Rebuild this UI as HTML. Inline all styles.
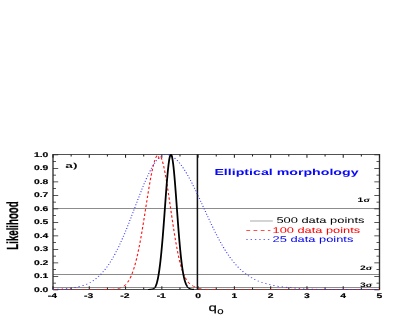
<!DOCTYPE html>
<html><head><meta charset="utf-8"><title>Likelihood</title>
<style>
html,body{margin:0;padding:0;background:#fff;}
body{width:415px;height:319px;overflow:hidden;font-family:"Liberation Sans",sans-serif;}
svg{display:block;filter:blur(0.35px);}
text{font-family:"Liberation Sans",sans-serif;text-rendering:geometricPrecision;}
</style></head><body>
<svg width="415" height="319" viewBox="0 0 415 319">
<rect width="415" height="319" fill="#fff"/>
<g id="plot" transform="scale(1.6 1)">

<line x1="33.12" x2="237.19" y1="208.50" y2="208.50" stroke="#8c8c8c" stroke-width="0.85"/>
<line x1="33.12" x2="237.19" y1="274.50" y2="274.50" stroke="#8c8c8c" stroke-width="0.85"/>
<line x1="33.12" x2="237.19" y1="287.50" y2="287.50" stroke="#8c8c8c" stroke-width="0.85"/>
<rect x="33.125" y="154.5" width="204.062" height="135.0" fill="none" stroke="#333" stroke-width="0.85"/>
<path d="M33.125 289.50v-3.2 M33.125 154.50v3.2 M44.462 289.50v-1.9 M44.462 154.50v1.9 M55.799 289.50v-3.2 M55.799 154.50v3.2 M67.135 289.50v-1.9 M67.135 154.50v1.9 M78.472 289.50v-3.2 M78.472 154.50v3.2 M89.809 289.50v-1.9 M89.809 154.50v1.9 M101.146 289.50v-3.2 M101.146 154.50v3.2 M112.483 289.50v-1.9 M112.483 154.50v1.9 M123.819 289.50v-3.2 M123.819 154.50v3.2 M135.156 289.50v-1.9 M135.156 154.50v1.9 M146.493 289.50v-3.2 M146.493 154.50v3.2 M157.830 289.50v-1.9 M157.830 154.50v1.9 M169.167 289.50v-3.2 M169.167 154.50v3.2 M180.503 289.50v-1.9 M180.503 154.50v1.9 M191.840 289.50v-3.2 M191.840 154.50v3.2 M203.177 289.50v-1.9 M203.177 154.50v1.9 M214.514 289.50v-3.2 M214.514 154.50v3.2 M225.851 289.50v-1.9 M225.851 154.50v1.9 M237.188 289.50v-3.2 M237.188 154.50v3.2 M33.125 289.80h3.25 M237.188 289.80h-3.25 M33.125 283.05h1.88 M237.188 283.05h-1.88 M33.125 276.30h3.25 M237.188 276.30h-3.25 M33.125 269.55h1.88 M237.188 269.55h-1.88 M33.125 262.80h3.25 M237.188 262.80h-3.25 M33.125 256.05h1.88 M237.188 256.05h-1.88 M33.125 249.30h3.25 M237.188 249.30h-3.25 M33.125 242.55h1.88 M237.188 242.55h-1.88 M33.125 235.80h3.25 M237.188 235.80h-3.25 M33.125 229.05h1.88 M237.188 229.05h-1.88 M33.125 222.30h3.25 M237.188 222.30h-3.25 M33.125 215.55h1.88 M237.188 215.55h-1.88 M33.125 208.80h3.25 M237.188 208.80h-3.25 M33.125 202.05h1.88 M237.188 202.05h-1.88 M33.125 195.30h3.25 M237.188 195.30h-3.25 M33.125 188.55h1.88 M237.188 188.55h-1.88 M33.125 181.80h3.25 M237.188 181.80h-3.25 M33.125 175.05h1.88 M237.188 175.05h-1.88 M33.125 168.30h3.25 M237.188 168.30h-3.25 M33.125 161.55h1.88 M237.188 161.55h-1.88 M33.125 154.80h3.25 M237.188 154.80h-3.25" stroke="#222" stroke-width="0.66" fill="none"/>
<line x1="123.382" x2="123.382" y1="154.5" y2="289.5" stroke="#111" stroke-width="0.95"/>
<path d="M33.125 289.50 L33.352 289.50 L33.578 289.50 L33.805 289.50 L34.032 289.50 L34.259 289.50 L34.485 289.50 L34.712 289.50 L34.939 289.50 L35.166 289.50 L35.392 289.50 L35.619 289.50 L35.846 289.50 L36.073 289.50 L36.299 289.50 L36.526 289.50 L36.753 289.50 L36.980 289.50 L37.206 289.50 L37.433 289.50 L37.660 289.50 L37.886 289.50 L38.113 289.50 L38.340 289.50 L38.567 289.50 L38.793 289.50 L39.020 289.50 L39.247 289.50 L39.474 289.50 L39.700 289.50 L39.927 289.50 L40.154 289.50 L40.381 289.50 L40.607 289.50 L40.834 289.50 L41.061 289.50 L41.288 289.50 L41.514 289.50 L41.741 289.50 L41.968 289.50 L42.194 289.50 L42.421 289.50 L42.648 289.50 L42.875 289.50 L43.101 289.50 L43.328 289.50 L43.555 289.50 L43.782 289.50 L44.008 289.50 L44.235 289.50 L44.462 289.50 L44.689 289.50 L44.915 289.50 L45.142 289.50 L45.369 289.50 L45.595 289.50 L45.822 289.50 L46.049 289.50 L46.276 289.50 L46.502 289.50 L46.729 289.50 L46.956 289.50 L47.183 289.50 L47.409 289.50 L47.636 289.50 L47.863 289.50 L48.090 289.50 L48.316 289.50 L48.543 289.50 L48.770 289.50 L48.997 289.50 L49.223 289.50 L49.450 289.50 L49.677 289.50 L49.903 289.50 L50.130 289.50 L50.357 289.50 L50.584 289.50 L50.810 289.50 L51.037 289.50 L51.264 289.50 L51.491 289.50 L51.717 289.50 L51.944 289.50 L52.171 289.50 L52.398 289.50 L52.624 289.50 L52.851 289.50 L53.078 289.50 L53.305 289.50 L53.531 289.50 L53.758 289.50 L53.985 289.50 L54.211 289.50 L54.438 289.50 L54.665 289.50 L54.892 289.50 L55.118 289.50 L55.345 289.50 L55.572 289.50 L55.799 289.50 L56.025 289.50 L56.252 289.50 L56.479 289.50 L56.706 289.50 L56.932 289.50 L57.159 289.50 L57.386 289.50 L57.613 289.50 L57.839 289.50 L58.066 289.50 L58.293 289.50 L58.519 289.50 L58.746 289.50 L58.973 289.50 L59.200 289.50 L59.426 289.50 L59.653 289.50 L59.880 289.50 L60.107 289.50 L60.333 289.50 L60.560 289.50 L60.787 289.50 L61.014 289.50 L61.240 289.50 L61.467 289.50 L61.694 289.50 L61.920 289.50 L62.147 289.50 L62.374 289.50 L62.601 289.50 L62.827 289.50 L63.054 289.49 L63.281 289.49 L63.508 289.49 L63.734 289.49 L63.961 289.49 L64.188 289.49 L64.415 289.49 L64.641 289.49 L64.868 289.49 L65.095 289.48 L65.322 289.48 L65.548 289.48 L65.775 289.48 L66.002 289.47 L66.228 289.47 L66.455 289.47 L66.682 289.46 L66.909 289.46 L67.135 289.45 L67.362 289.45 L67.589 289.44 L67.816 289.44 L68.042 289.43 L68.269 289.42 L68.496 289.41 L68.723 289.40 L68.949 289.39 L69.176 289.38 L69.403 289.36 L69.630 289.35 L69.856 289.33 L70.083 289.31 L70.310 289.29 L70.536 289.27 L70.763 289.25 L70.990 289.22 L71.217 289.19 L71.443 289.16 L71.670 289.13 L71.897 289.09 L72.124 289.05 L72.350 289.00 L72.577 288.95 L72.804 288.90 L73.031 288.84 L73.257 288.78 L73.484 288.71 L73.711 288.63 L73.938 288.55 L74.164 288.46 L74.391 288.37 L74.618 288.26 L74.844 288.15 L75.071 288.03 L75.298 287.90 L75.525 287.76 L75.751 287.61 L75.978 287.45 L76.205 287.27 L76.432 287.08 L76.658 286.88 L76.885 286.67 L77.112 286.44 L77.339 286.19 L77.565 285.93 L77.792 285.64 L78.019 285.34 L78.245 285.02 L78.472 284.68 L78.699 284.32 L78.926 283.93 L79.152 283.52 L79.379 283.08 L79.606 282.62 L79.833 282.13 L80.059 281.61 L80.286 281.06 L80.513 280.48 L80.740 279.87 L80.966 279.23 L81.193 278.55 L81.420 277.84 L81.647 277.09 L81.873 276.30 L82.100 275.48 L82.327 274.61 L82.553 273.70 L82.780 272.75 L83.007 271.76 L83.234 270.73 L83.460 269.65 L83.687 268.52 L83.914 267.35 L84.141 266.14 L84.367 264.87 L84.594 263.56 L84.821 262.20 L85.048 260.80 L85.274 259.34 L85.501 257.84 L85.728 256.28 L85.955 254.68 L86.181 253.03 L86.408 251.34 L86.635 249.60 L86.861 247.81 L87.088 245.97 L87.315 244.10 L87.542 242.17 L87.768 240.21 L87.995 238.21 L88.222 236.17 L88.449 234.09 L88.675 231.98 L88.902 229.83 L89.129 227.66 L89.356 225.45 L89.582 223.22 L89.809 220.97 L90.036 218.70 L90.263 216.41 L90.489 214.11 L90.716 211.80 L90.943 209.48 L91.169 207.16 L91.396 204.84 L91.623 202.53 L91.850 200.22 L92.076 197.93 L92.303 195.65 L92.530 193.39 L92.757 191.16 L92.983 188.96 L93.210 186.79 L93.437 184.65 L93.664 182.56 L93.890 180.52 L94.117 178.52 L94.344 176.58 L94.570 174.70 L94.797 172.88 L95.024 171.12 L95.251 169.44 L95.477 167.83 L95.704 166.29 L95.931 164.84 L96.158 163.47 L96.384 162.19 L96.611 161.00 L96.838 159.91 L97.065 158.90 L97.291 158.00 L97.518 157.20 L97.745 156.50 L97.972 155.90 L98.198 155.44 L98.425 155.16 L98.652 155.22 L98.878 155.79 L99.105 156.87 L99.332 158.09 L99.559 158.77 L99.785 158.58 L100.012 157.85 L100.239 157.25 L100.466 157.17 L100.692 157.62 L100.919 158.41 L101.146 159.40 L101.373 160.53 L101.599 161.77 L101.826 163.12 L102.053 164.56 L102.280 166.11 L102.506 167.75 L102.733 169.49 L102.960 171.30 L103.186 173.20 L103.413 175.17 L103.640 177.22 L103.867 179.33 L104.093 181.50 L104.320 183.72 L104.547 186.00 L104.774 188.32 L105.000 190.68 L105.227 193.08 L105.454 195.51 L105.681 197.96 L105.907 200.42 L106.134 202.91 L106.361 205.40 L106.588 207.89 L106.814 210.39 L107.041 212.88 L107.268 215.36 L107.494 217.83 L107.721 220.28 L107.948 222.70 L108.175 225.11 L108.401 227.48 L108.628 229.82 L108.855 232.13 L109.082 234.40 L109.308 236.62 L109.535 238.81 L109.762 240.95 L109.989 243.04 L110.215 245.09 L110.442 247.08 L110.669 249.02 L110.895 250.91 L111.122 252.74 L111.349 254.52 L111.576 256.25 L111.802 257.92 L112.029 259.52 L112.256 261.06 L112.483 262.53 L112.709 263.95 L112.936 265.30 L113.163 266.59 L113.390 267.82 L113.616 269.00 L113.843 270.12 L114.070 271.18 L114.297 272.20 L114.523 273.16 L114.750 274.07 L114.977 274.93 L115.203 275.75 L115.430 276.53 L115.657 277.26 L115.884 277.95 L116.110 278.60 L116.337 279.22 L116.564 279.80 L116.791 280.35 L117.017 280.87 L117.244 281.35 L117.471 281.81 L117.698 282.24 L117.924 282.65 L118.151 283.03 L118.378 283.38 L118.605 283.72 L118.831 284.04 L119.058 284.33 L119.285 284.61 L119.511 284.87 L119.738 285.12 L119.965 285.35 L120.192 285.56 L120.418 285.77 L120.645 285.96 L120.872 286.14 L121.099 286.30 L121.325 286.46 L121.552 286.61 L121.779 286.75 L122.006 286.88 L122.232 287.00 L122.459 287.11 L122.686 287.28 L122.912 287.45 L123.139 287.61 L123.366 287.76 L123.593 287.89 L123.819 288.02 L124.046 288.14 L124.273 288.25 L124.500 288.35 L124.726 288.44 L124.953 288.53 L125.180 288.61 L125.407 288.69 L125.633 288.76 L125.860 288.82 L126.087 288.88 L126.314 288.93 L126.540 288.98 L126.767 289.03 L126.994 289.07 L127.220 289.11 L127.447 289.14 L127.674 289.18 L127.901 289.21 L128.127 289.23 L128.354 289.26 L128.581 289.28 L128.808 289.30 L129.034 289.32 L129.261 289.34 L129.488 289.35 L129.715 289.37 L129.941 289.38 L130.168 289.39 L130.395 289.40 L130.622 289.41 L130.848 289.42 L131.075 289.43 L131.302 289.44 L131.528 289.44 L131.755 289.45 L131.982 289.45 L132.209 289.46 L132.435 289.46 L132.662 289.47 L132.889 289.47 L133.116 289.47 L133.342 289.48 L133.569 289.48 L133.796 289.48 L134.023 289.48 L134.249 289.49 L134.476 289.49 L134.703 289.49 L134.930 289.49 L135.156 289.49 L135.383 289.49 L135.610 289.49 L135.836 289.49 L136.063 289.49 L136.290 289.50 L136.517 289.50 L136.743 289.50 L136.970 289.50 L137.197 289.50 L137.424 289.50 L137.650 289.50 L137.877 289.50 L138.104 289.50 L138.331 289.50 L138.557 289.50 L138.784 289.50 L139.011 289.50 L139.237 289.50 L139.464 289.50 L139.691 289.50 L139.918 289.50 L140.144 289.50 L140.371 289.50 L140.598 289.50 L140.825 289.50 L141.051 289.50 L141.278 289.50 L141.505 289.50 L141.732 289.50 L141.958 289.50 L142.185 289.50 L142.412 289.50 L142.639 289.50 L142.865 289.50 L143.092 289.50 L143.319 289.50 L143.545 289.50 L143.772 289.50 L143.999 289.50 L144.226 289.50 L144.452 289.50 L144.679 289.50 L144.906 289.50 L145.133 289.50 L145.359 289.50 L145.586 289.50 L145.813 289.50 L146.040 289.50 L146.266 289.50 L146.493 289.50 L146.720 289.50 L146.947 289.50 L147.173 289.50 L147.400 289.50 L147.627 289.50 L147.853 289.50 L148.080 289.50 L148.307 289.50 L148.534 289.50 L148.760 289.50 L148.987 289.50 L149.214 289.50 L149.441 289.50 L149.667 289.50 L149.894 289.50 L150.121 289.50 L150.348 289.50 L150.574 289.50 L150.801 289.50 L151.028 289.50 L151.255 289.50 L151.481 289.50 L151.708 289.50 L151.935 289.50 L152.161 289.50 L152.388 289.50 L152.615 289.50 L152.842 289.50 L153.068 289.50 L153.295 289.50 L153.522 289.50 L153.749 289.50 L153.975 289.50 L154.202 289.50 L154.429 289.50 L154.656 289.50 L154.882 289.50 L155.109 289.50 L155.336 289.50 L155.562 289.50 L155.789 289.50 L156.016 289.50 L156.243 289.50 L156.469 289.50 L156.696 289.50 L156.923 289.50 L157.150 289.50 L157.376 289.50 L157.603 289.50 L157.830 289.50 L158.057 289.50 L158.283 289.50 L158.510 289.50 L158.737 289.50 L158.964 289.50 L159.190 289.50 L159.417 289.50 L159.644 289.50 L159.870 289.50 L160.097 289.50 L160.324 289.50 L160.551 289.50 L160.777 289.50 L161.004 289.50 L161.231 289.50 L161.458 289.50 L161.684 289.50 L161.911 289.50 L162.138 289.50 L162.365 289.50 L162.591 289.50 L162.818 289.50 L163.045 289.50 L163.272 289.50 L163.498 289.50 L163.725 289.50 L163.952 289.50 L164.178 289.50 L164.405 289.50 L164.632 289.50 L164.859 289.50 L165.085 289.50 L165.312 289.50 L165.539 289.50 L165.766 289.50 L165.992 289.50 L166.219 289.50 L166.446 289.50 L166.673 289.50 L166.899 289.50 L167.126 289.50 L167.353 289.50 L167.580 289.50 L167.806 289.50 L168.033 289.50 L168.260 289.50 L168.486 289.50 L168.713 289.50 L168.940 289.50 L169.167 289.50 L169.393 289.50 L169.620 289.50 L169.847 289.50 L170.074 289.50 L170.300 289.50 L170.527 289.50 L170.754 289.50 L170.981 289.50 L171.207 289.50 L171.434 289.50 L171.661 289.50 L171.887 289.50 L172.114 289.50 L172.341 289.50 L172.568 289.50 L172.794 289.50 L173.021 289.50 L173.248 289.50 L173.475 289.50 L173.701 289.50 L173.928 289.50 L174.155 289.50 L174.382 289.50 L174.608 289.50 L174.835 289.50 L175.062 289.50 L175.289 289.50 L175.515 289.50 L175.742 289.50 L175.969 289.50 L176.195 289.50 L176.422 289.50 L176.649 289.50 L176.876 289.50 L177.102 289.50 L177.329 289.50 L177.556 289.50 L177.783 289.50 L178.009 289.50 L178.236 289.50 L178.463 289.50 L178.690 289.50 L178.916 289.50 L179.143 289.50 L179.370 289.50 L179.597 289.50 L179.823 289.50 L180.050 289.50 L180.277 289.50 L180.503 289.50 L180.730 289.50 L180.957 289.50 L181.184 289.50 L181.410 289.50 L181.637 289.50 L181.864 289.50 L182.091 289.50 L182.317 289.50 L182.544 289.50 L182.771 289.50 L182.998 289.50 L183.224 289.50 L183.451 289.50 L183.678 289.50 L183.905 289.50 L184.131 289.50 L184.358 289.50 L184.585 289.50 L184.811 289.50 L185.038 289.50 L185.265 289.50 L185.492 289.50 L185.718 289.50 L185.945 289.50 L186.172 289.50 L186.399 289.50 L186.625 289.50 L186.852 289.50 L187.079 289.50 L187.306 289.50 L187.532 289.50 L187.759 289.50 L187.986 289.50 L188.212 289.50 L188.439 289.50 L188.666 289.50 L188.893 289.50 L189.119 289.50 L189.346 289.50 L189.573 289.50 L189.800 289.50 L190.026 289.50 L190.253 289.50 L190.480 289.50 L190.707 289.50 L190.933 289.50 L191.160 289.50 L191.387 289.50 L191.614 289.50 L191.840 289.50 L192.067 289.50 L192.294 289.50 L192.520 289.50 L192.747 289.50 L192.974 289.50 L193.201 289.50 L193.427 289.50 L193.654 289.50 L193.881 289.50 L194.108 289.50 L194.334 289.50 L194.561 289.50 L194.788 289.50 L195.015 289.50 L195.241 289.50 L195.468 289.50 L195.695 289.50 L195.922 289.50 L196.148 289.50 L196.375 289.50 L196.602 289.50 L196.828 289.50 L197.055 289.50 L197.282 289.50 L197.509 289.50 L197.735 289.50 L197.962 289.50 L198.189 289.50 L198.416 289.50 L198.642 289.50 L198.869 289.50 L199.096 289.50 L199.323 289.50 L199.549 289.50 L199.776 289.50 L200.003 289.50 L200.230 289.50 L200.456 289.50 L200.683 289.50 L200.910 289.50 L201.136 289.50 L201.363 289.50 L201.590 289.50 L201.817 289.50 L202.043 289.50 L202.270 289.50 L202.497 289.50 L202.724 289.50 L202.950 289.50 L203.177 289.50 L203.404 289.50 L203.631 289.50 L203.857 289.50 L204.084 289.50 L204.311 289.50 L204.537 289.50 L204.764 289.50 L204.991 289.50 L205.218 289.50 L205.444 289.50 L205.671 289.50 L205.898 289.50 L206.125 289.50 L206.351 289.50 L206.578 289.50 L206.805 289.50 L207.032 289.50 L207.258 289.50 L207.485 289.50 L207.712 289.50 L207.939 289.50 L208.165 289.50 L208.392 289.50 L208.619 289.50 L208.845 289.50 L209.072 289.50 L209.299 289.50 L209.526 289.50 L209.752 289.50 L209.979 289.50 L210.206 289.50 L210.433 289.50 L210.659 289.50 L210.886 289.50 L211.113 289.50 L211.340 289.50 L211.566 289.50 L211.793 289.50 L212.020 289.50 L212.247 289.50 L212.473 289.50 L212.700 289.50 L212.927 289.50 L213.153 289.50 L213.380 289.50 L213.607 289.50 L213.834 289.50 L214.060 289.50 L214.287 289.50 L214.514 289.50 L214.741 289.50 L214.967 289.50 L215.194 289.50 L215.421 289.50 L215.648 289.50 L215.874 289.50 L216.101 289.50 L216.328 289.50 L216.555 289.50 L216.781 289.50 L217.008 289.50 L217.235 289.50 L217.461 289.50 L217.688 289.50 L217.915 289.50 L218.142 289.50 L218.368 289.50 L218.595 289.50 L218.822 289.50 L219.049 289.50 L219.275 289.50 L219.502 289.50 L219.729 289.50 L219.956 289.50 L220.182 289.50 L220.409 289.50 L220.636 289.50 L220.862 289.50 L221.089 289.50 L221.316 289.50 L221.543 289.50 L221.769 289.50 L221.996 289.50 L222.223 289.50 L222.450 289.50 L222.676 289.50 L222.903 289.50 L223.130 289.50 L223.357 289.50 L223.583 289.50 L223.810 289.50 L224.037 289.50 L224.264 289.50 L224.490 289.50 L224.717 289.50 L224.944 289.50 L225.170 289.50 L225.397 289.50 L225.624 289.50 L225.851 289.50 L226.077 289.50 L226.304 289.50 L226.531 289.50 L226.758 289.50 L226.984 289.50 L227.211 289.50 L227.438 289.50 L227.665 289.50 L227.891 289.50 L228.118 289.50 L228.345 289.50 L228.572 289.50 L228.798 289.50 L229.025 289.50 L229.252 289.50 L229.478 289.50 L229.705 289.50 L229.932 289.50 L230.159 289.50 L230.385 289.50 L230.612 289.50 L230.839 289.50 L231.066 289.50 L231.292 289.50 L231.519 289.50 L231.746 289.50 L231.973 289.50 L232.199 289.50 L232.426 289.50 L232.653 289.50 L232.880 289.50 L233.106 289.50 L233.333 289.50 L233.560 289.50 L233.786 289.50 L234.013 289.50 L234.240 289.50 L234.467 289.50 L234.693 289.50 L234.920 289.50 L235.147 289.50 L235.374 289.50 L235.600 289.50 L235.827 289.50 L236.054 289.50 L236.281 289.50 L236.507 289.50 L236.734 289.50 L236.961 289.50 L237.188 289.50" fill="none" stroke="#ff1414" stroke-width="0.72" stroke-dasharray="2.4 2.1"/>
<path d="M33.125 289.31 L33.533 289.29 L33.941 289.28 L34.349 289.26 L34.758 289.24 L35.166 289.22 L35.574 289.20 L35.982 289.18 L36.390 289.15 L36.798 289.13 L37.206 289.10 L37.614 289.07 L38.022 289.04 L38.431 289.01 L38.839 288.97 L39.247 288.93 L39.655 288.89 L40.063 288.85 L40.471 288.80 L40.879 288.75 L41.288 288.70 L41.696 288.65 L42.104 288.59 L42.512 288.53 L42.920 288.46 L43.328 288.39 L43.736 288.32 L44.144 288.24 L44.552 288.15 L44.961 288.07 L45.369 287.97 L45.777 287.87 L46.185 287.77 L46.593 287.66 L47.001 287.54 L47.409 287.42 L47.817 287.29 L48.226 287.16 L48.634 287.01 L49.042 286.86 L49.450 286.70 L49.858 286.54 L50.266 286.36 L50.674 286.18 L51.082 285.98 L51.491 285.78 L51.899 285.56 L52.307 285.34 L52.715 285.11 L53.123 284.86 L53.531 284.60 L53.939 284.33 L54.347 284.05 L54.756 283.75 L55.164 283.44 L55.572 283.12 L55.980 282.78 L56.388 282.43 L56.796 282.06 L57.204 281.68 L57.613 281.28 L58.021 280.87 L58.429 280.44 L58.837 279.99 L59.245 279.52 L59.653 279.03 L60.061 278.53 L60.469 278.00 L60.877 277.46 L61.286 276.89 L61.694 276.31 L62.102 275.70 L62.510 275.08 L62.918 274.43 L63.326 273.75 L63.734 273.06 L64.142 272.34 L64.551 271.60 L64.959 270.84 L65.367 270.05 L65.775 269.23 L66.183 268.39 L66.591 267.53 L66.999 266.64 L67.407 265.73 L67.816 264.79 L68.224 263.82 L68.632 262.83 L69.040 261.81 L69.448 260.77 L69.856 259.69 L70.264 258.60 L70.672 257.47 L71.081 256.32 L71.489 255.15 L71.897 253.94 L72.305 252.71 L72.713 251.46 L73.121 250.18 L73.529 248.88 L73.938 247.55 L74.346 246.19 L74.754 244.81 L75.162 243.41 L75.570 241.98 L75.978 240.54 L76.386 239.06 L76.794 237.57 L77.203 236.06 L77.611 234.53 L78.019 232.98 L78.427 231.41 L78.835 229.82 L79.243 228.21 L79.651 226.59 L80.059 224.96 L80.467 223.31 L80.876 221.65 L81.284 219.98 L81.692 218.30 L82.100 216.61 L82.508 214.91 L82.916 213.21 L83.324 211.50 L83.732 209.79 L84.141 208.08 L84.549 206.36 L84.957 204.65 L85.365 202.94 L85.773 201.24 L86.181 199.54 L86.589 197.84 L86.997 196.16 L87.406 194.49 L87.814 192.83 L88.222 191.18 L88.630 189.55 L89.038 187.94 L89.446 186.34 L89.854 184.77 L90.263 183.22 L90.671 181.69 L91.079 180.19 L91.487 178.72 L91.895 177.28 L92.303 175.87 L92.711 174.49 L93.119 173.14 L93.528 171.83 L93.936 170.56 L94.344 169.33 L94.752 168.13 L95.160 166.98 L95.568 165.88 L95.976 164.81 L96.384 163.80 L96.792 162.83 L97.201 161.90 L97.609 161.03 L98.017 160.21 L98.425 159.44 L98.833 158.72 L99.241 158.06 L99.649 157.45 L100.057 156.90 L100.466 156.40 L100.874 155.96 L101.282 155.58 L101.690 155.25 L102.098 154.98 L102.506 154.77 L102.914 154.62 L103.322 154.53 L103.731 154.50 L104.139 154.52 L104.547 154.58 L104.955 154.68 L105.363 154.82 L105.771 155.00 L106.179 155.22 L106.588 155.48 L106.996 155.78 L107.404 156.12 L107.812 156.50 L108.220 156.92 L108.628 157.38 L109.036 157.87 L109.444 158.41 L109.853 158.98 L110.261 159.58 L110.669 160.23 L111.077 160.90 L111.485 161.62 L111.893 162.37 L112.301 163.15 L112.709 163.96 L113.117 164.81 L113.526 165.69 L113.934 166.60 L114.342 167.54 L114.750 168.51 L115.158 169.51 L115.566 170.53 L115.974 171.58 L116.382 172.66 L116.791 173.76 L117.199 174.89 L117.607 176.04 L118.015 177.22 L118.423 178.41 L118.831 179.62 L119.239 180.86 L119.647 182.11 L120.056 183.38 L120.464 184.67 L120.872 185.97 L121.280 187.29 L121.688 188.62 L122.096 189.96 L122.504 191.32 L122.912 192.68 L123.321 194.06 L123.729 195.44 L124.137 196.84 L124.545 198.24 L124.953 199.64 L125.361 201.05 L125.769 202.47 L126.177 203.88 L126.586 205.30 L126.994 206.73 L127.402 208.15 L127.810 209.57 L128.218 210.99 L128.626 212.41 L129.034 213.82 L129.442 215.24 L129.851 216.64 L130.259 218.05 L130.667 219.44 L131.075 220.83 L131.483 222.22 L131.891 223.59 L132.299 224.96 L132.707 226.31 L133.116 227.66 L133.524 229.00 L133.932 230.32 L134.340 231.64 L134.748 232.94 L135.156 234.23 L135.564 235.50 L135.972 236.76 L136.381 238.01 L136.789 239.23 L137.197 240.44 L137.605 241.63 L138.013 242.81 L138.421 243.97 L138.829 245.11 L139.237 246.23 L139.646 247.33 L140.054 248.41 L140.462 249.48 L140.870 250.52 L141.278 251.55 L141.686 252.56 L142.094 253.55 L142.502 254.52 L142.911 255.47 L143.319 256.40 L143.727 257.31 L144.135 258.20 L144.543 259.08 L144.951 259.93 L145.359 260.77 L145.767 261.59 L146.176 262.38 L146.584 263.17 L146.992 263.93 L147.400 264.67 L147.808 265.40 L148.216 266.11 L148.624 266.80 L149.032 267.47 L149.441 268.13 L149.849 268.77 L150.257 269.39 L150.665 270.00 L151.073 270.59 L151.481 271.16 L151.889 271.72 L152.297 272.27 L152.706 272.79 L153.114 273.31 L153.522 273.81 L153.930 274.30 L154.338 274.77 L154.746 275.23 L155.154 275.67 L155.562 276.10 L155.971 276.52 L156.379 276.93 L156.787 277.33 L157.195 277.71 L157.603 278.08 L158.011 278.44 L158.419 278.79 L158.827 279.13 L159.236 279.46 L159.644 279.78 L160.052 280.09 L160.460 280.38 L160.868 280.67 L161.276 280.95 L161.684 281.22 L162.093 281.49 L162.501 281.74 L162.909 281.99 L163.317 282.23 L163.725 282.46 L164.133 282.68 L164.541 282.89 L164.949 283.10 L165.357 283.31 L165.766 283.50 L166.174 283.69 L166.582 283.87 L166.990 284.05 L167.398 284.22 L167.806 284.38 L168.214 284.54 L168.622 284.70 L169.031 284.85 L169.439 284.99 L169.847 285.13 L170.255 285.26 L170.663 285.39 L171.071 285.52 L171.479 285.64 L171.887 285.76 L172.296 285.87 L172.704 285.98 L173.112 286.09 L173.520 286.19 L173.928 286.29 L174.336 286.38 L174.744 286.48 L175.153 286.57 L175.561 286.65 L175.969 286.74 L176.377 286.82 L176.785 286.89 L177.193 286.97 L177.601 287.04 L178.009 287.11 L178.417 287.18 L178.826 287.24 L179.234 287.31 L179.642 287.37 L180.050 287.43 L180.458 287.49 L180.866 287.54 L181.274 287.61 L181.683 287.69 L182.091 287.77 L182.499 287.85 L182.907 287.92 L183.315 287.99 L183.723 288.06 L184.131 288.13 L184.539 288.19 L184.947 288.25 L185.356 288.31 L185.764 288.36 L186.172 288.41 L186.580 288.47 L186.988 288.51 L187.396 288.56 L187.804 288.60 L188.212 288.65 L188.621 288.69 L189.029 288.73 L189.437 288.76 L189.845 288.80 L190.253 288.83 L190.661 288.87 L191.069 288.90 L191.478 288.93 L191.886 288.96 L192.294 288.98 L192.702 289.01 L193.110 289.03 L193.518 289.06 L193.926 289.08 L194.334 289.10 L194.743 289.12 L195.151 289.14 L195.559 289.16 L195.967 289.18 L196.375 289.19 L196.783 289.21 L197.191 289.23 L197.599 289.24 L198.007 289.25 L198.416 289.27 L198.824 289.28 L199.232 289.29 L199.640 289.30 L200.048 289.31 L200.456 289.32 L200.864 289.33 L201.272 289.34 L201.681 289.35 L202.089 289.36 L202.497 289.37 L202.905 289.37 L203.313 289.38 L203.721 289.39 L204.129 289.39 L204.537 289.40 L204.946 289.41 L205.354 289.41 L205.762 289.42 L206.170 289.42 L206.578 289.43 L206.986 289.43 L207.394 289.43 L207.802 289.44 L208.211 289.44 L208.619 289.45 L209.027 289.45 L209.435 289.45 L209.843 289.45 L210.251 289.46 L210.659 289.46 L211.067 289.46 L211.476 289.46 L211.884 289.47 L212.292 289.47 L212.700 289.47 L213.108 289.47 L213.516 289.47 L213.924 289.48 L214.333 289.48 L214.741 289.48 L215.149 289.48 L215.557 289.48 L215.965 289.48 L216.373 289.48 L216.781 289.48 L217.189 289.49 L217.597 289.49 L218.006 289.49 L218.414 289.49 L218.822 289.49 L219.230 289.49 L219.638 289.49 L220.046 289.49 L220.454 289.49 L220.862 289.49 L221.271 289.49 L221.679 289.49 L222.087 289.49 L222.495 289.49 L222.903 289.49 L223.311 289.49 L223.719 289.50 L224.127 289.50 L224.536 289.50 L224.944 289.50 L225.352 289.50 L225.760 289.50 L226.168 289.50 L226.576 289.50 L226.984 289.50 L227.392 289.50 L227.801 289.50 L228.209 289.50 L228.617 289.50 L229.025 289.50 L229.433 289.50 L229.841 289.50 L230.249 289.50 L230.657 289.50 L231.066 289.50 L231.474 289.50 L231.882 289.50 L232.290 289.50 L232.698 289.50 L233.106 289.50 L233.514 289.50 L233.922 289.50 L234.331 289.50 L234.739 289.50 L235.147 289.50 L235.555 289.50 L235.963 289.50 L236.371 289.50 L236.779 289.50 L237.188 289.50" fill="none" stroke="#3030ff" stroke-width="0.75" stroke-dasharray="0.85 1.85"/>
<path d="M92.500 289.48 L92.644 289.47 L92.787 289.47 L92.931 289.46 L93.075 289.45 L93.219 289.45 L93.362 289.44 L93.506 289.42 L93.650 289.41 L93.794 289.40 L93.938 289.38 L94.081 289.36 L94.225 289.33 L94.369 289.31 L94.512 289.28 L94.656 289.24 L94.800 289.20 L94.944 289.15 L95.087 289.10 L95.231 289.04 L95.375 288.97 L95.519 288.89 L95.662 288.80 L95.806 288.70 L95.950 288.58 L96.094 288.46 L96.237 288.31 L96.381 288.15 L96.525 287.97 L96.669 287.76 L96.812 287.54 L96.956 287.19 L97.100 286.79 L97.244 286.35 L97.387 285.86 L97.531 285.31 L97.675 284.70 L97.819 284.03 L97.963 283.29 L98.106 282.49 L98.250 281.62 L98.394 280.68 L98.537 279.66 L98.681 278.57 L98.825 277.40 L98.969 276.15 L99.112 274.82 L99.256 273.40 L99.400 271.91 L99.544 270.33 L99.688 268.66 L99.831 266.92 L99.975 265.09 L100.119 263.17 L100.262 261.18 L100.406 259.11 L100.550 256.95 L100.694 254.72 L100.837 252.41 L100.981 250.03 L101.125 247.58 L101.269 245.06 L101.412 242.46 L101.556 239.78 L101.700 237.03 L101.844 234.21 L101.987 231.32 L102.131 228.37 L102.275 225.37 L102.419 222.33 L102.562 219.24 L102.706 216.12 L102.850 212.98 L102.994 209.82 L103.138 206.66 L103.281 203.49 L103.425 200.34 L103.569 197.22 L103.712 194.12 L103.856 191.07 L104.000 188.08 L104.144 185.15 L104.288 182.29 L104.431 179.52 L104.575 176.85 L104.719 174.29 L104.862 171.84 L105.006 169.52 L105.150 167.34 L105.294 165.30 L105.437 163.42 L105.581 161.70 L105.725 160.15 L105.869 158.78 L106.013 157.59 L106.156 156.59 L106.300 155.78 L106.444 155.16 L106.587 154.75 L106.731 154.53 L106.875 154.52 L107.019 154.71 L107.162 155.10 L107.306 155.68 L107.450 156.47 L107.594 157.45 L107.737 158.61 L107.881 159.96 L108.025 161.49 L108.169 163.19 L108.312 165.05 L108.456 167.06 L108.600 169.23 L108.744 171.53 L108.887 173.96 L109.031 176.51 L109.175 179.17 L109.319 181.93 L109.462 184.77 L109.606 187.69 L109.750 190.68 L109.894 193.72 L110.037 196.81 L110.181 199.94 L110.325 203.08 L110.469 206.24 L110.612 209.41 L110.756 212.57 L110.900 215.71 L111.044 218.83 L111.188 221.93 L111.331 224.98 L111.475 227.98 L111.619 230.94 L111.762 233.83 L111.906 236.67 L112.050 239.43 L112.194 242.12 L112.338 244.73 L112.481 247.26 L112.625 249.70 L112.769 252.07 L112.912 254.34 L113.056 256.52 L113.200 258.62 L113.344 260.63 L113.487 262.54 L113.631 264.37 L113.775 266.10 L113.919 267.75 L114.062 269.32 L114.206 270.80 L114.350 272.19 L114.494 273.51 L114.638 274.75 L114.781 275.91 L114.925 277.00 L115.069 278.02 L115.212 278.97 L115.356 279.86 L115.500 280.68 L115.644 281.45 L115.787 282.16 L115.931 282.82 L116.075 283.43 L116.219 283.99 L116.362 284.51 L116.506 284.98 L116.650 285.42 L116.794 285.82 L116.937 286.18 L117.081 286.52 L117.225 286.82 L117.369 287.10 L117.513 287.35 L117.656 287.58 L117.800 287.78 L117.944 287.97 L118.087 288.14 L118.231 288.29 L118.375 288.43 L118.519 288.55 L118.663 288.66 L118.806 288.76 L118.950 288.84 L119.094 288.92 L119.237 288.99 L119.381 289.05 L119.525 289.11 L119.669 289.16 L119.812 289.20 L119.956 289.24 L120.100 289.27 L120.244 289.30 L120.388 289.33 L120.531 289.35 L120.675 289.37 L120.819 289.39 L120.962 289.40 L121.106 289.42 L121.250 289.43" fill="none" stroke="#000" stroke-width="1.12" stroke-linejoin="round"/>
<line x1="156.250" x2="170.500" y1="221" y2="221" stroke="#a0a0a0" stroke-width="0.9"/>
<line x1="153.938" x2="169.000" y1="230.3" y2="230.3" stroke="#ff1414" stroke-width="0.72" stroke-dasharray="2.4 2.1"/>
<line x1="153.938" x2="169.688" y1="239.5" y2="239.5" stroke="#3030ff" stroke-width="0.75" stroke-dasharray="0.85 1.85"/>
</g>
<g id="labels" font-weight="bold" fill="#000" stroke="#000" stroke-width="0.16">
<text transform="translate(48.3 291.70) scale(1.5 1)" font-size="6.9" text-anchor="end">0.0</text>
<text transform="translate(48.3 278.20) scale(1.5 1)" font-size="6.9" text-anchor="end">0.1</text>
<text transform="translate(48.3 264.70) scale(1.5 1)" font-size="6.9" text-anchor="end">0.2</text>
<text transform="translate(48.3 251.20) scale(1.5 1)" font-size="6.9" text-anchor="end">0.3</text>
<text transform="translate(48.3 237.70) scale(1.5 1)" font-size="6.9" text-anchor="end">0.4</text>
<text transform="translate(48.3 224.20) scale(1.5 1)" font-size="6.9" text-anchor="end">0.5</text>
<text transform="translate(48.3 210.70) scale(1.5 1)" font-size="6.9" text-anchor="end">0.6</text>
<text transform="translate(48.3 197.20) scale(1.5 1)" font-size="6.9" text-anchor="end">0.7</text>
<text transform="translate(48.3 183.70) scale(1.5 1)" font-size="6.9" text-anchor="end">0.8</text>
<text transform="translate(48.3 170.20) scale(1.5 1)" font-size="6.9" text-anchor="end">0.9</text>
<text transform="translate(48.3 156.70) scale(1.5 1)" font-size="6.9" text-anchor="end">1.0</text>
<text transform="translate(52.40 297.5) scale(1.5 1)" font-size="6.9" text-anchor="middle">-4</text>
<text transform="translate(88.68 297.5) scale(1.5 1)" font-size="6.9" text-anchor="middle">-3</text>
<text transform="translate(124.96 297.5) scale(1.5 1)" font-size="6.9" text-anchor="middle">-2</text>
<text transform="translate(161.23 297.5) scale(1.5 1)" font-size="6.9" text-anchor="middle">-1</text>
<text transform="translate(198.11 297.5) scale(1.5 1)" font-size="6.9" text-anchor="middle">0</text>
<text transform="translate(234.39 297.5) scale(1.5 1)" font-size="6.9" text-anchor="middle">1</text>
<text transform="translate(270.67 297.5) scale(1.5 1)" font-size="6.9" text-anchor="middle">2</text>
<text transform="translate(306.94 297.5) scale(1.5 1)" font-size="6.9" text-anchor="middle">3</text>
<text transform="translate(343.22 297.5) scale(1.5 1)" font-size="6.9" text-anchor="middle">4</text>
<text transform="translate(379.50 297.5) scale(1.5 1)" font-size="6.9" text-anchor="middle">5</text>
</g>
<text transform="translate(65.3 168.0) scale(1.85 1)" font-size="7.4" font-weight="bold" fill="#111">a)</text>
<text transform="translate(214.4 175.4) scale(1.632 1)" font-size="8.7" font-weight="bold" fill="#0808f8">Elliptical morphology</text>
<text transform="translate(357.6 201.7) scale(1.6 1)" font-size="6.5" font-weight="bold" fill="#000">1<tspan font-size="6.2">σ</tspan></text>
<text transform="translate(360.0 270.0) scale(1.6 1)" font-size="6.5" font-weight="bold" fill="#000">2<tspan font-size="6.2">σ</tspan></text>
<text transform="translate(360.0 287.1) scale(1.6 1)" font-size="6.5" font-weight="bold" fill="#000">3<tspan font-size="6.2">σ</tspan></text>
<text transform="translate(276.4 223.4) scale(1.552 1)" font-size="8.3" fill="#000">500 data points</text>
<text transform="translate(272.6 232.5) scale(1.542 1)" font-size="8.3" fill="#ff0000">100 data points</text>
<text transform="translate(272.6 242.0) scale(1.549 1)" font-size="8.3" fill="#0000f0">25 data points</text>
<text transform="translate(18.2 249.7) rotate(-90) scale(0.605 1)" font-size="16" font-weight="bold" fill="#000" stroke="#000" stroke-width="0.35">Likelihood</text>
<text transform="translate(208.6 311.2) scale(1.45 1)" font-size="10.4" fill="#000" stroke="#000" stroke-width="0.15">q</text>
<text transform="translate(217.3 313.5) scale(1.27 1)" font-size="9" fill="#000" stroke="#000" stroke-width="0.12">o</text>
</svg></body></html>
